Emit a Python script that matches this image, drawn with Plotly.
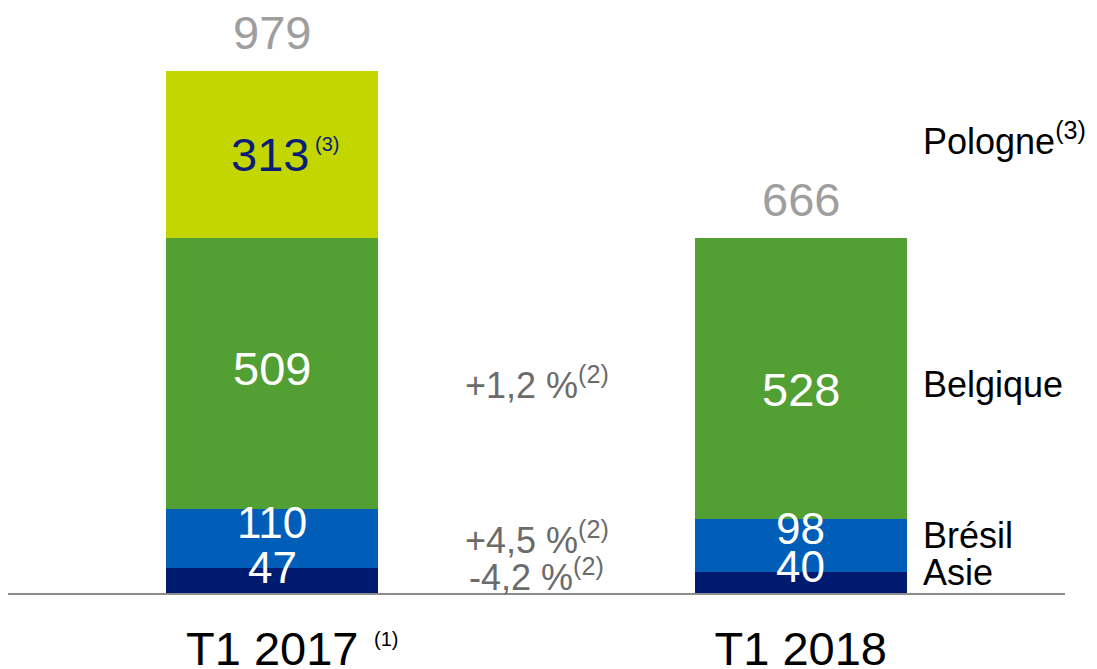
import plotly.graph_objects as go

categories = ["T1 2017", "T1 2018"]
asie = [47, 40]
bresil = [110, 98]
belgique = [509, 528]
pologne = [313, 0]
totals = [979, 666]

region_names = ["Asie", "Brésil", "Belgique", "Pologne"]
growth = ["-4,2 %", "+4,5 %", "+1,2 %"]

colors = ["#001A70", "#005EB8", "#52A033", "#C4D600"]
FONT = "Liberation Sans, Arial, sans-serif"

x = [0, 1]
series = [asie, bresil, belgique, pologne]

fig = go.Figure()
for name, vals, col in zip(region_names, series, colors):
    fig.add_trace(go.Bar(x=x, y=vals, name=name, marker=dict(color=col, line=dict(width=0)),
                         width=0.4016, hoverinfo="skip"))

# segment labels (pixel nudges per segment, like in the slide)
shifts = [[13, 16], [16, 17], [5, -11], [0, 0]]
sizes = [[44, 44], [44, 44], [47, 47], [47, 47]]
ann = []
for k, vals in enumerate(series):
    for i in range(2):
        if vals[i] == 0:
            continue
        base = sum(s[i] for s in series[:k])
        txt = str(vals[i])
        fcol = "white"
        xs = 0
        if k == 3:
            txt = txt + "<sup><span style='font-size:20px'> (3)</span></sup>"
            fcol = "#0A1E78"
            xs = 13
        ann.append(dict(x=x[i], y=base + vals[i] / 2, text=txt, showarrow=False, xshift=xs,
                        yshift=shifts[k][i], font=dict(size=sizes[k][i], color=fcol, family=FONT)))

# totals
for i in range(2):
    ann.append(dict(x=x[i], y=totals[i], text=str(totals[i]), showarrow=False, yanchor="bottom",
                    yshift=10, font=dict(size=47, color="#9E9E9E", family=FONT)))

# growth labels between bars, aligned on T1 2018 segments
g_shift = [7, 8, -4]
for k in range(3):
    base = sum(s[1] for s in series[:k])
    ann.append(dict(x=0.5, y=base + series[k][1] / 2, text=growth[k] + "<sup>(2)</sup>",
                    showarrow=False, yshift=g_shift[k],
                    font=dict(size=36, color="#6B6B6B", family=FONT)))

# region names on the right
r_shift = [10, 10, -6]
for k in range(3):
    base = sum(s[1] for s in series[:k])
    ann.append(dict(x=1.228, y=base + series[k][1] / 2, text=region_names[k], showarrow=False,
                    xanchor="left", yshift=r_shift[k], font=dict(size=36, color="black", family=FONT)))
ann.append(dict(x=1.228, y=sum(s[0] for s in series[:3]) + pologne[0] / 2,
                text=region_names[3] + "<sup>(3)</sup>", showarrow=False, xanchor="left", yshift=15,
                font=dict(size=36, color="black", family=FONT)))

# footnote mark on first category
ann.append(dict(x=0, y=0, yref="y", text="(1)", showarrow=False, xanchor="left", yanchor="top",
                xshift=100, yshift=-33, font=dict(size=20, color="black", family=FONT)))

# page body has an 8px margin, so the figure is pulled up/left by that much
fig.update_layout(
    barmode="stack",
    width=1097, height=669,
    margin=dict(l=0, r=40, t=2, b=84, autoexpand=False),
    paper_bgcolor="white", plot_bgcolor="white",
    showlegend=False,
    annotations=ann,
    bargap=0,
)
fig.update_xaxes(range=[-0.5, 1.5], tickvals=x, ticktext=categories, showgrid=False,
                 zeroline=False, showline=True, linecolor="#8C8C8C", linewidth=1.5,
                 ticks="", ticklabelstandoff=14, automargin=False,
                 tickfont=dict(size=47, color="black", family=FONT))
fig.update_yaxes(range=[0, 1093.4], visible=False)

fig.write_html("out.html")
